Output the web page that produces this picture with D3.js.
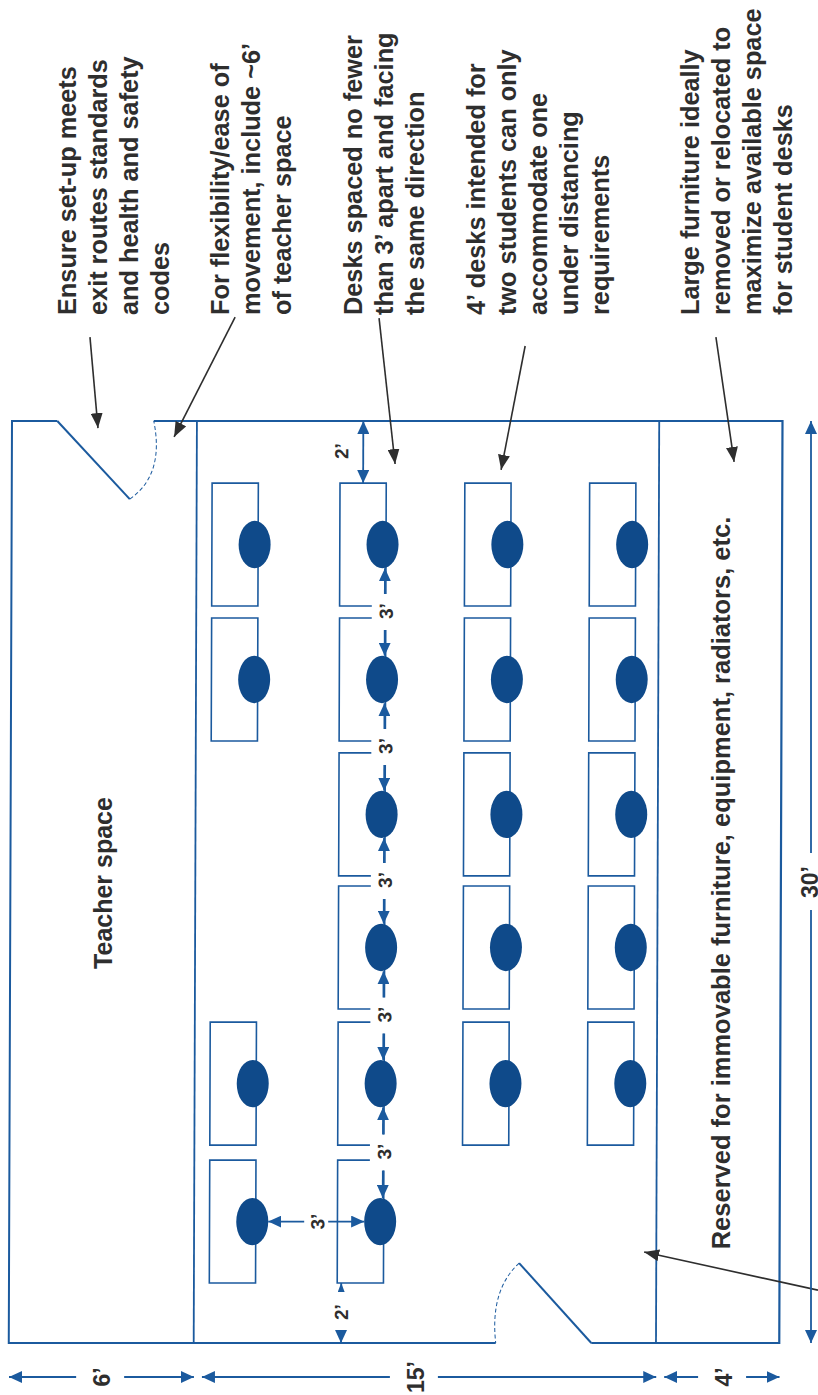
<!DOCTYPE html>
<html>
<head>
<meta charset="utf-8">
<script src="https://d3js.org/d3.v7.min.js"></script>
<style>
  html, body { margin: 0; padding: 0; background: #fff; }
  svg { display: block; }
  text { font-family: "Liberation Sans", Arial, sans-serif; font-weight: bold; }
</style>
</head>
<body>
<svg id="plan"></svg>
<script>
// room, all in feet
const roomWide = 25, roomLong = 30;
const zones = [6, 15, 4];
const zoneLabels = ["6’", "15’", "4’"];
const zoneLabelAt = [2.86, 13.04, 23.04];
const lengthLabel = "30’";

// desks: where each row starts across the room, where each slot starts along it
const deskRows = [6.5, 10.65, 14.7, 18.75];
const deskSlots = [2.02, 6.41, 10.8, 15.13, 19.56, 24.05];
const rowSlots = [[0, 1, 4, 5], [0, 1, 2, 3, 4, 5], [0, 1, 2, 3, 4], [0, 1, 2, 3, 4]];
const deskDepth = 1.5, deskLength = 4;

// doors: hinge, leaf end, arc bend, arc end
const doors = [
  { hinge: [1.47, 0], leaf: [3.83, 2.54], bend: [4.96, 1.76], end: [4.6, 0] },
  { hinge: [18.9, 30], leaf: [16.55, 27.4], bend: [15.6, 28.28], end: [15.8, 30] }
];

// callouts
const callouts = [
  ["Ensure set-up meets", "exit routes standards", "and health and safety", "codes"],
  ["For flexibility/ease of", "movement, include ~6’", "of teacher space"],
  ["Desks spaced no fewer", "than 3’ apart and facing", "the same direction"],
  ["4’ desks intended for", "two students can only", "accommodate one", "under distancing", "requirements"],
  ["Large furniture ideally", "removed or relocated to", "maximize available space", "for student desks"]
];
const calloutFrom = [[2.53, -2.73], [7.24, -3.38], [11.91, -3.35], [16.65, -2.44], [22.84, -2.73], [26.15, 28.28]];
const calloutTo = [[2.79, 0.23], [5.26, 0.52], [12.43, 1.4], [15.87, 1.59], [23.43, 1.33], [20.51, 27.04]];
const calloutBaselines = [76, 229, 362, 485, 699];
const calloutSpacing = 31;

const teacherLabel = "Teacher space";
const reservedLabel = "Reserved for immovable furniture, equipment, radiators, etc.";

const width = 818, height = 1395;
const blue = "#1b5a9e", dark = "#0f4a8a", ink = "#2e2e2e";

const x = d3.scaleLinear().domain([0, roomWide]).range([12, 782.5]);
const y = d3.scaleLinear().domain([0, roomLong]).range([421, 1343]);

const svg = d3.select("#plan").attr("width", width).attr("height", height)
  .attr("viewBox", [0, 0, width, height]);

const defs = svg.append("defs");
function marker(id, color, w, l) {
  defs.append("marker").attr("id", id)
    .attr("markerUnits", "userSpaceOnUse")
    .attr("viewBox", `0 ${-w / 2} ${l} ${w}`)
    .attr("markerWidth", l).attr("markerHeight", w)
    .attr("refX", l).attr("refY", 0)
    .attr("orient", "auto-start-reverse")
    .append("path").attr("d", `M0,${-w / 2}L${l},0L0,${w / 2}Z`).attr("fill", color);
}
marker("tipBlue", blue, 12, 13);
marker("tipSmall", blue, 7, 9);
marker("tipInk", ink, 12, 15);

// upright text running bottom to top, as in the scanned sheet
function sideText(g, px, py, str, size, anchor, color) {
  g.append("text")
    .attr("transform", `translate(${px},${py}) rotate(-90)`)
    .attr("text-anchor", anchor || "start")
    .attr("font-size", size)
    .attr("fill", color || ink)
    .text(str);
}

function dimLine(g, x1, y1, x2, y2, opts) {
  const l = g.append("line")
    .attr("x1", x1).attr("y1", y1).attr("x2", x2).attr("y2", y2)
    .attr("stroke", blue).attr("stroke-width", 1.8);
  if (opts.start) l.attr("marker-start", `url(#${opts.start})`);
  if (opts.end) l.attr("marker-end", `url(#${opts.end})`);
}

// the scan sits slightly off square, so the room leans with it
const room = svg.append("g")
  .attr("transform", `matrix(1,0,-0.0035,1,${0.0035 * y(0)},0)`);

// walls, with the two door openings left out
const wall = d3.line().x(d => x(d[0])).y(d => y(d[1]));
room.append("path")
  .attr("d", wall([doors[0].hinge, [0, 0], [0, roomLong], [doors[1].end[0], roomLong]]))
  .attr("fill", "none").attr("stroke", blue).attr("stroke-width", 2);
room.append("path")
  .attr("d", wall([doors[0].end, [roomWide, 0], [roomWide, roomLong], doors[1].hinge]))
  .attr("fill", "none").attr("stroke", blue).attr("stroke-width", 2.2);

// zone dividers
room.selectAll("line.zone")
  .data(Array.from(d3.cumsum(zones)).slice(0, 2))
  .join("line").attr("class", "zone")
  .attr("x1", d => x(d)).attr("x2", d => x(d))
  .attr("y1", y(0)).attr("y2", y(roomLong))
  .attr("stroke", blue).attr("stroke-width", 1.8);

// doors
doors.forEach(d => {
  room.append("path").attr("d", wall([d.hinge, d.leaf]))
    .attr("fill", "none").attr("stroke", blue).attr("stroke-width", 2);
  room.append("path")
    .attr("d", `M${x(d.leaf[0])},${y(d.leaf[1])}Q${x(d.bend[0])},${y(d.bend[1])} ${x(d.end[0])},${y(d.end[1])}`)
    .attr("fill", "none").attr("stroke", blue).attr("stroke-width", 1)
    .attr("stroke-dasharray", "4,2.5");
});

// desks
const seats = rowSlots.flatMap((slots, r) => slots.map(s => ({ row: r, slot: s })));
const deskW = x(deskDepth) - x(0), deskH = y(deskLength) - y(0);

room.selectAll("rect.desk")
  .data(seats)
  .join("rect").attr("class", "desk")
  .attr("x", d => x(deskRows[d.row]))
  .attr("y", d => y(deskSlots[d.slot]))
  .attr("width", deskW).attr("height", deskH)
  .attr("fill", "none").attr("stroke", blue).attr("stroke-width", 1.6);

// 3' spacing along the second row
const aisle = 1;
const seatX = x(deskRows[aisle]) + deskW - 3.5;
const seatRy = 23.7, seatRx = 16;
const arrowX = seatX + 2.5;
deskSlots.slice(1).forEach((s, i) => {
  const prev = deskSlots[i];
  const mid = (y(prev + deskLength) + y(s)) / 2;
  room.append("rect")
    .attr("x", arrowX - 13).attr("y", mid - 18)
    .attr("width", 22).attr("height", 36).attr("fill", "#fff");
  dimLine(room, arrowX, mid - 18, arrowX, y(prev + deskLength / 2) + seatRy, { end: "tipBlue" });
  dimLine(room, arrowX, mid + 18, arrowX, y(s + deskLength / 2) - seatRy, { end: "tipBlue" });
  sideText(room, arrowX + 8, mid + 7, "3’", 19, "start");
});

// seats
room.selectAll("ellipse.seat")
  .data(seats)
  .join("ellipse").attr("class", "seat")
  .attr("cx", d => x(deskRows[d.row]) + deskW - 3.5)
  .attr("cy", d => y(deskSlots[d.slot] + deskLength / 2))
  .attr("rx", seatRx).attr("ry", seatRy)
  .attr("fill", dark);

// 3' across the aisle between the first two rows
const crossY = y(deskSlots[5] + deskLength / 2);
const crossA = x(deskRows[0]) + deskW - 3.5 + seatRx;
const crossB = seatX - seatRx;
const crossMid = (crossA + crossB) / 2;
room.append("rect").attr("x", crossMid - 12).attr("y", crossY - 10)
  .attr("width", 26).attr("height", 20).attr("fill", "#fff");
dimLine(room, crossMid - 12, crossY, crossA, crossY, { end: "tipBlue" });
dimLine(room, crossMid + 12, crossY, crossB, crossY, { end: "tipBlue" });
sideText(room, crossMid + 8, crossY + 8, "3’", 19, "start");

// 2' from the wall to the first and last desk
const topX = x(deskRows[aisle]) + deskW / 2;
dimLine(room, topX, y(0), topX, y(deskSlots[0]), { start: "tipBlue", end: "tipBlue" });
sideText(room, topX - 15, y(deskSlots[0] / 2) + 7, "2’", 19, "start");

const botX = x(deskRows[aisle]) + 4;
const lastEnd = y(deskSlots[5] + deskLength);
dimLine(room, botX, lastEnd + 8, botX, lastEnd, { end: "tipSmall" });
dimLine(room, botX, y(roomLong) - 12, botX, y(roomLong), { end: "tipBlue" });
sideText(room, botX + 7, (lastEnd + y(roomLong)) / 2 + 7, "2’", 19, "start");

// labels inside the room
sideText(svg, 112, 883, teacherLabel, 25, "middle");
sideText(svg, 730, 883, reservedLabel, 25.5, "middle");

// callout text and arrows
callouts.forEach((lines, i) => {
  lines.forEach((t, j) => {
    sideText(svg, calloutBaselines[i] + j * calloutSpacing, 315, t, 25.3, "start");
  });
});
calloutFrom.forEach((f, i) => {
  const t = calloutTo[i];
  svg.append("line")
    .attr("x1", x(f[0])).attr("y1", y(f[1]))
    .attr("x2", x(t[0])).attr("y2", y(t[1]))
    .attr("stroke", ink).attr("stroke-width", 1.6)
    .attr("marker-end", "url(#tipInk)");
});

// zone dimensions under the plan
const dimY = 1377;
const edges = [0].concat(Array.from(d3.cumsum(zones)));
zones.forEach((z, i) => {
  const a = x(edges[i]) - 3, b = x(edges[i + 1]) - 3;
  const inset = i === 0 ? 0 : 8;
  const mid = x(zoneLabelAt[i]);
  dimLine(svg, mid - 24, dimY, a + inset, dimY, { end: "tipBlue" });
  dimLine(svg, mid + 24, dimY, b, dimY, { end: "tipBlue" });
  sideText(svg, mid + 10, dimY, zoneLabels[i], 23, "middle");
});

// length of the room, running off the right of the sheet
const sideX = 811, sideY = y(15) + 0;
dimLine(svg, sideX, sideY - 29, sideX, y(0), { end: "tipBlue" });
dimLine(svg, sideX, sideY + 28, sideX, y(roomLong), { end: "tipBlue" });
sideText(svg, 818, sideY, lengthLabel, 23, "middle");
</script>
</body>
</html>
